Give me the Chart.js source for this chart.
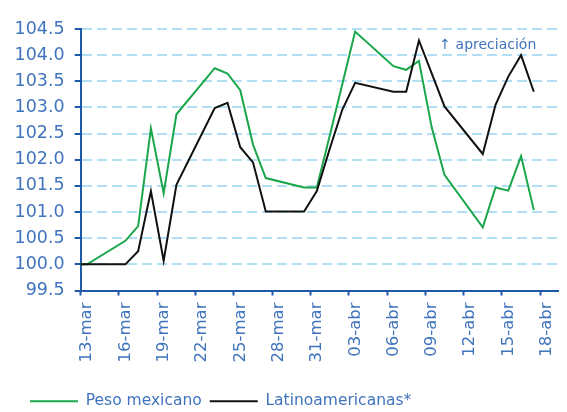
<!DOCTYPE html>
<html>
<head>
<meta charset="utf-8">
<script src="https://cdn.jsdelivr.net/npm/chart.js@4.4.1/dist/chart.umd.min.js"></script>
<style>
  html, body { margin: 0; padding: 0; overflow: hidden; background: #fff; }
  #wrap { width: 567px; height: 419px; }
</style>
</head>
<body>
<div id="wrap"><canvas id="myChart"></canvas></div>
<script>
// trading days (weekends skipped)
const dates = [
  '2020-03-12', '2020-03-13', '2020-03-16', '2020-03-17', '2020-03-18', '2020-03-19', '2020-03-20',
  '2020-03-23', '2020-03-24', '2020-03-25', '2020-03-26', '2020-03-27',
  '2020-03-30', '2020-03-31', '2020-04-01', '2020-04-02', '2020-04-03',
  '2020-04-06', '2020-04-07', '2020-04-08', '2020-04-09', '2020-04-10',
  '2020-04-13', '2020-04-14', '2020-04-15', '2020-04-16', '2020-04-17'
];
const pesoMexicano = [
  100.0, 100.0, 100.45, 100.73, 102.60, 101.36, 102.87,
  103.75, 103.65, 103.33, 102.29, 101.65,
  101.47, 101.47, 102.45, 103.45, 104.45,
  103.79, 103.72, 103.89, 102.62, 101.71,
  100.71, 101.47, 101.41, 102.07, 101.04
];
const latinoamericanas = [
  100.0, 100.0, 100.0, 100.25, 101.40, 100.07, 101.52,
  102.99, 103.09, 102.24, 101.95, 101.01,
  101.01, 101.40, 102.20, 102.96, 103.47,
  103.30, 103.30, 104.28, 103.65, 103.02,
  102.11, 103.05, 103.59, 104.00, 103.30
];
const xTickLabels = ['13-mar', '16-mar', '19-mar', '22-mar', '25-mar', '28-mar', '31-mar',
  '03-abr', '06-abr', '09-abr', '12-abr', '15-abr', '18-abr'];
const yTicks = [99.5, 100.0, 100.5, 101.0, 101.5, 102.0, 102.5, 103.0, 103.5, 104.0, 104.5];

const blue = '#4074bc';
const axisBlue = '#1f5aa8';
const gridBlue = '#b2dff4';
const family = "'DejaVu Sans', sans-serif";

const start = Date.UTC(2020, 2, 13);
const dayOf = s => {
  const [y, m, d] = s.split('-').map(Number);
  return (Date.UTC(y, m - 1, d) - start) / 86400000;
};
// each point sits in the middle of its day
const toPoints = vals => vals.map((v, i) => ({ x: dayOf(dates[i]) + 0.5, y: v }));

const apreciacion = {
  id: 'apreciacion',
  afterDatasetsDraw(chart) {
    const { ctx, scales: { x, y } } = chart;
    ctx.save();
    ctx.font = '14px ' + family;
    ctx.fillStyle = blue;
    ctx.textBaseline = 'middle';
    ctx.fillText('\u2191 apreciación', x.getPixelForValue(28.1), y.getPixelForValue(104.18));
    ctx.restore();
  }
};

// legend sits a bit in from the left edge
const legendShift = {
  id: 'legendShift',
  afterLayout(chart) {
    chart.legend.left += 22;
    chart.legend.right += 22;
  }
};

const ctx = document.getElementById('myChart');

new Chart(ctx, {
  type: 'line',
  data: {
    datasets: [
      {
        label: 'Peso mexicano',
        data: toPoints(pesoMexicano),
        borderColor: '#1aa64b',
        backgroundColor: '#1aa64b',
        borderWidth: 2,
        pointRadius: 0,
        tension: 0,
        order: 1
      },
      {
        label: 'Latinoamericanas*',
        data: toPoints(latinoamericanas),
        borderColor: '#111111',
        backgroundColor: '#111111',
        borderWidth: 2,
        pointRadius: 0,
        tension: 0,
        order: 0
      }
    ]
  },
  options: {
    responsive: true,
    maintainAspectRatio: false,
    animation: false,
    layout: { padding: { top: 29, right: 0, bottom: 0, left: 0 } },
    plugins: {
      tooltip: { enabled: false },
      legend: {
        position: 'bottom',
        align: 'start',
        labels: {
          usePointStyle: true,
          pointStyle: 'line',
          pointStyleWidth: 48,
          padding: 8,
          color: blue,
          font: { family, size: 15.5 },
          sort: (a, b) => a.datasetIndex - b.datasetIndex
        }
      }
    },
    scales: {
      x: {
        type: 'linear',
        min: 0,
        max: 37.45,
        afterBuildTicks: s => { s.ticks = xTickLabels.map((_, i) => ({ value: i * 3 })); },
        afterFit: s => { s.height = 95; },
        grid: { drawOnChartArea: false, drawTicks: true, tickLength: 5, tickColor: axisBlue, tickWidth: 2 },
        border: { color: axisBlue, width: 2 },
        ticks: {
          callback: (v, i) => xTickLabels[i],
          autoSkip: false,
          minRotation: 90,
          maxRotation: 90,
          labelOffset: 6.5,
          padding: 7,
          color: blue,
          font: { family, size: 16.5 }
        }
      },
      y: {
        min: 99.5,
        max: 104.5,
        afterBuildTicks: s => { s.ticks = yTicks.map(v => ({ value: v })); },
        afterFit: s => { s.width = 80.7; },
        grid: { color: gridBlue, lineWidth: 2, tickLength: 6, tickColor: axisBlue, tickWidth: 2 },
        border: { color: axisBlue, width: 2, dash: [10, 5] },
        ticks: {
          callback: v => v.toFixed(1),
          padding: 10,
          color: blue,
          font: { family, size: 17.5 }
        }
      }
    }
  },
  plugins: [apreciacion, legendShift]
});
</script>
</body>
</html>
